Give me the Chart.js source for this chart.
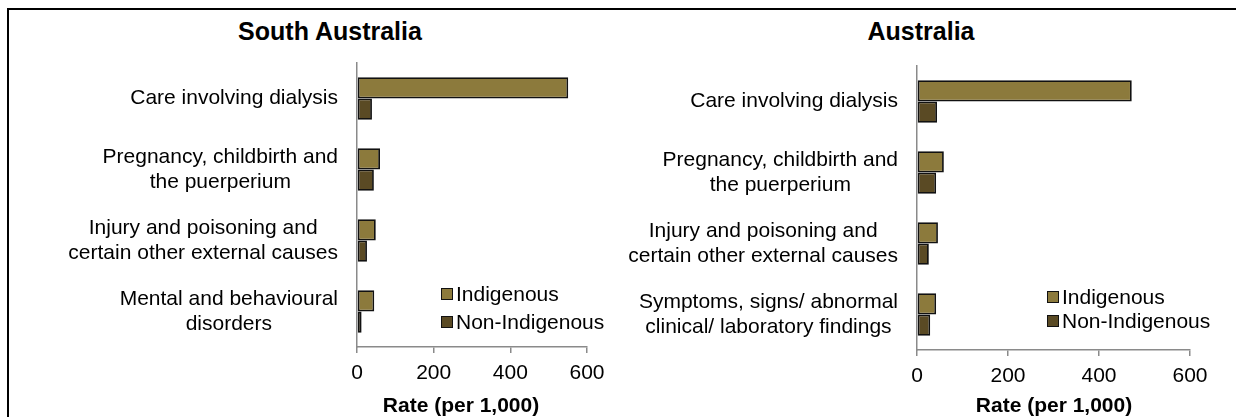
<!DOCTYPE html>
<html>
<head>
<meta charset="utf-8">
<script src="https://cdn.jsdelivr.net/npm/chart.js@4.4.0/dist/chart.umd.min.js"></script>
<style>
  body { margin: 0; background: #fff; font-family: "Liberation Sans", Arial, sans-serif; }
  #wrap { position: relative; width: 1236px; height: 417px; overflow: hidden; }
  .frame { position: absolute; left: 7px; top: 8px; width: 1300px; height: 500px; border-top: 2px solid #000; border-left: 2px solid #000; }
  .title { position: absolute; top: 17px; font-weight: bold; font-size: 25px; transform: translateX(-50%); white-space: nowrap; color: #000; }
  .axis-title { position: absolute; top: 393px; font-weight: bold; font-size: 21px; line-height: 24px; transform: translateX(-50%); white-space: nowrap; color: #000; }
  .legend { position: absolute; font-size: 21px; color: #000; }
  .legend div { position: relative; height: 24px; line-height: 24px; white-space: nowrap; }
  .legend span { position: absolute; left: 0; top: 6px; width: 10px; height: 10px; border: 1.5px solid #111; }
  canvas { position: absolute; top: 0; }
</style>
</head>
<body>
<div id="wrap">
  <div class="frame"></div>
  <div class="title" style="left:330px">South Australia</div>
  <div class="title" style="left:921px">Australia</div>
  <canvas id="saChart" width="612" height="417" style="left:8px"></canvas>
  <canvas id="auChart" width="616" height="417" style="left:620px"></canvas>
  <div class="axis-title" id="saAxisTitle" style="left:461px"></div>
  <div class="axis-title" id="auAxisTitle" style="left:1054px"></div>
  <div class="legend" id="saLegend" style="left:441px; top:282px"></div>
  <div class="legend" id="auLegend" style="left:1047px; top:285px"></div>
</div>
<script>
// Data (rate per 1,000)
const seriesNames = ['Indigenous', 'Non-Indigenous'];
const seriesColors = ['#8c7a3c', '#5a4a24'];

const saCategories = [
    ['Care involving dialysis'],
    ['Pregnancy, childbirth and', 'the puerperium'],
    ['Injury and poisoning and', 'certain other external causes'],
    ['Mental and behavioural', 'disorders']
];
const saIndigenous = [551, 60, 49, 45];
const saNonIndigenous = [39, 44, 26, 12];

const auCategories = [
    ['Care involving dialysis'],
    ['Pregnancy, childbirth and', 'the puerperium'],
    ['Injury and poisoning and', 'certain other external causes'],
    ['Symptoms, signs/ abnormal', 'clinical/ laboratory findings']
];
const auIndigenous = [472, 59, 46, 42];
const auNonIndigenous = [44, 42, 26, 29];

const xTicks = [0, 200, 400, 600];
const axisTitle = 'Rate (per 1,000)';

const FONT = '"Liberation Sans", Arial, sans-serif';
const AXIS_GREY = '#8a8a8a';

// category labels: each block right-aligned to the axis, lines centred inside it
const blockLabels = {
    id: 'blockLabels',
    afterDraw(chart, args, opts) {
        const ctx = chart.ctx;
        const yScale = chart.scales.y;
        ctx.save();
        ctx.font = '21px ' + FONT;
        ctx.fillStyle = '#000';
        ctx.textAlign = 'center';
        ctx.textBaseline = 'middle';
        const lh = 25.5;
        opts.labels.forEach((lines, i) => {
            const w = Math.max(...lines.map(l => ctx.measureText(l).width));
            const cx = yScale.right - opts.gap - w / 2;
            const cy = yScale.getPixelForTick(i);
            lines.forEach((l, k) => {
                ctx.fillText(l, cx, cy + (k - (lines.length - 1) / 2) * lh);
            });
        });
        ctx.restore();
    }
};

function makeChart(id, cats, ind, non, yWidth, padTop, padRight, xHeight) {
    return new Chart(document.getElementById(id), {
        type: 'bar',
        data: {
            labels: cats.map(c => c.join(' ')),
            datasets: [
                { label: seriesNames[0], data: ind, backgroundColor: seriesColors[0] },
                { label: seriesNames[1], data: non, backgroundColor: seriesColors[1] }
            ]
        },
        options: {
            indexAxis: 'y',
            responsive: false,
            animation: false,
            layout: { padding: { top: padTop, right: padRight, left: 0, bottom: 0 } },
            datasets: {
                bar: {
                    categoryPercentage: 0.6,
                    barPercentage: 1.0,
                    borderColor: '#111',
                    borderWidth: 1.8,
                    borderSkipped: false
                }
            },
            scales: {
                x: {
                    min: 0, max: 600,
                    afterBuildTicks: s => { s.ticks = xTicks.map(v => ({ value: v })); },
                    afterFit: s => { s.height = xHeight; },
                    grid: { display: true, drawOnChartArea: false, drawTicks: true, tickLength: 6, color: AXIS_GREY, lineWidth: 1.5 },
                    border: { display: true, color: AXIS_GREY, width: 1.5 },
                    ticks: { color: '#000', font: { family: FONT, size: 21 }, padding: 8, maxRotation: 0 }
                },
                y: {
                    afterFit: s => { s.width = yWidth; },
                    grid: { display: false },
                    border: { display: true, color: AXIS_GREY, width: 1.5 },
                    ticks: { display: false }
                }
            },
            plugins: {
                legend: { display: false },
                tooltip: { enabled: false },
                blockLabels: { labels: cats, gap: 19 }
            }
        },
        plugins: [blockLabels]
    });
}

function buildLegend(id, rowGap) {
    const el = document.getElementById(id);
    seriesNames.forEach((n, i) => {
        const row = document.createElement('div');
        row.style.paddingLeft = '15px';
        if (i > 0) row.style.marginTop = rowGap + 'px';
        row.innerHTML = '<span style="background:' + seriesColors[i] + '"></span>' + n;
        el.appendChild(row);
    });
}

makeChart('saChart', saCategories, saIndigenous, saNonIndigenous, 349, 63, 33, 70);
makeChart('auChart', auCategories, auIndigenous, auNonIndigenous, 297, 66, 46, 67);
buildLegend('saLegend', 4);
buildLegend('auLegend', 0);
document.getElementById('saAxisTitle').textContent = axisTitle;
document.getElementById('auAxisTitle').textContent = axisTitle;
</script>
</body>
</html>
